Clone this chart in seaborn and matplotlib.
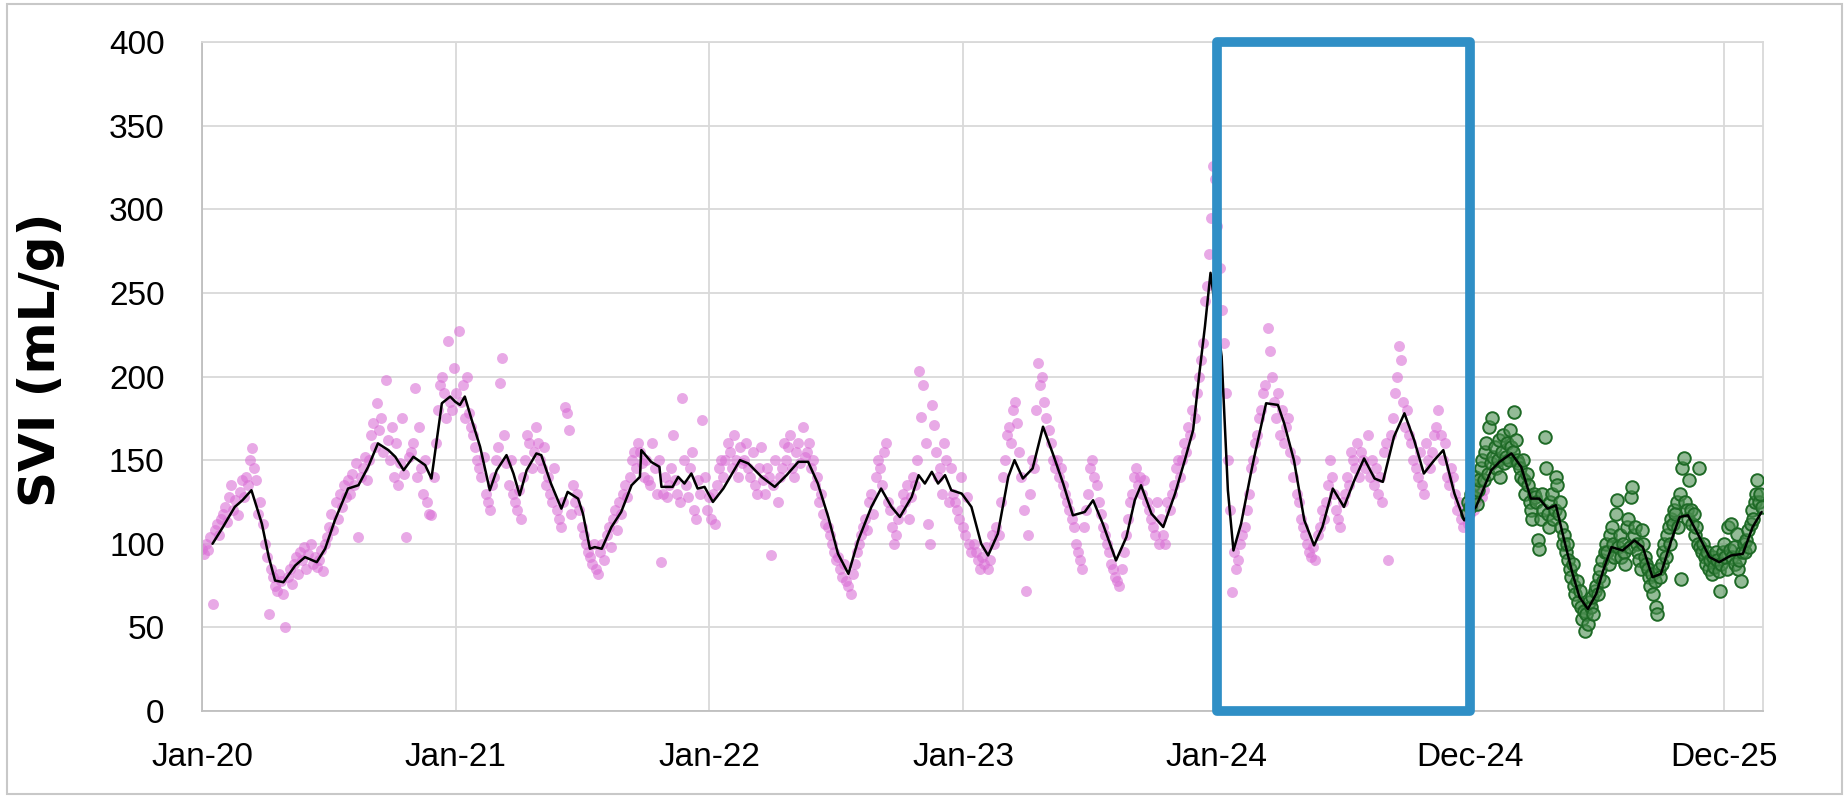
import matplotlib
matplotlib.use("Agg")
import matplotlib.dates as mdates
import matplotlib.pyplot as plt
import numpy as np
import pandas as pd
import seaborn as sns
from matplotlib.patches import Rectangle

# Datos (SVI en mL/g)
START = pd.Timestamp("2020-01-02")
AXIS_END = pd.Timestamp("2026-02-25")
TICK_DATES = ["2020-01-02", "2021-01-01", "2022-01-01", "2023-01-01",
              "2024-01-01", "2024-12-31", "2025-12-31"]
BOX_START = "2024-01-01"
BOX_END = "2024-12-31"

# Muestras históricas (una cada 3 días desde START)
PINK_2020 = [
    97, 94, 100, 96, 104, 64, 108, 112, 105, 115,
    118, 122, 113, 128, 135, 120, 126, 117, 131, 138,
    128, 140, 135, 150, 157, 145, 138, 118, 125, 112,
    100, 92, 58, 85, 80, 75, 72, 82, 78, 70,
    50, 80, 85, 76, 88, 92, 82, 95, 90, 98,
    85, 94, 100, 88, 92, 86, 90, 96, 84, 100,
    104, 110, 118, 108, 125, 115, 130, 122, 135, 128,
    138, 130, 142, 135, 148, 104, 140, 145, 152, 138,
    150, 165, 172, 158, 184, 168, 175, 155, 198, 162,
    150, 170, 140, 160, 135, 148, 175, 142, 104, 152,
    155, 160, 193, 140, 170, 145, 130, 150, 125, 118,
    117, 140, 160, 180, 195, 200, 190, 175, 221, 185,
]
PINK_2021 = [
    180, 205, 190, 227, 185, 195, 175, 200, 178, 170,
    165, 158, 150, 145, 140, 152, 130, 125, 120, 135,
    140, 150, 158, 196, 211, 165, 148, 135, 150, 130,
    125, 120, 132, 115, 140, 150, 165, 160, 145, 155,
    170, 160, 150, 145, 158, 135, 140, 130, 125, 145,
    120, 115, 110, 125, 182, 178, 168, 118, 135, 125,
    130, 120, 110, 105, 100, 95, 92, 88, 100, 85,
    82, 95, 100, 90, 105, 110, 98, 115, 120, 108,
    125, 118, 130, 135, 128, 140, 150, 155, 145, 160,
    155, 148, 140, 150, 138, 135, 160, 145, 130, 150,
    89, 130, 140, 128, 135, 145, 165, 138, 130, 125,
    187, 150, 135, 128, 145, 155, 120, 115, 138, 130,
]
PINK_2022 = [
    174, 140, 120, 128, 115, 130, 112, 135, 145, 150,
    140, 150, 160, 155, 145, 165, 150, 140, 158, 148,
    150, 160, 145, 140, 155, 135, 130, 145, 158, 138,
    130, 145, 140, 93, 135, 150, 125, 140, 145, 160,
    150, 158, 165, 145, 140, 155, 160, 148, 170, 152,
    155, 160, 145, 150, 135, 140, 125, 130, 118, 112,
    110, 105, 100, 95, 90, 92, 85, 80, 88, 78,
    75, 70, 82, 88, 95, 100, 105, 110, 115, 108,
    125, 130, 118, 140, 150, 145, 135, 155, 160, 125,
    120, 110, 100, 105, 115, 120, 130, 125, 135, 115,
    128, 140, 135, 150, 203, 176, 195, 160, 112, 100,
    183, 171, 155, 140, 145, 130, 160, 150, 125, 145,
]
PINK_2023 = [
    130, 125, 120, 115, 140, 110, 105, 128, 100, 95,
    100, 95, 90, 85, 92, 88, 98, 85, 90, 105,
    100, 110, 105, 125, 140, 150, 165, 170, 160, 180,
    185, 172, 155, 140, 120, 72, 105, 130, 150, 145,
    180, 208, 195, 200, 185, 175, 168, 160, 150, 145,
    150, 140, 145, 135, 130, 125, 120, 115, 110, 100,
    95, 90, 85, 110, 120, 130, 145, 150, 140, 135,
    125, 118, 110, 105, 100, 95, 88, 85, 80, 78,
    75, 85, 95, 105, 115, 125, 130, 140, 145, 135,
    140, 130, 138, 125, 120, 115, 110, 105, 125, 100,
    115, 105, 100, 125, 120, 130, 135, 145, 150, 140,
    150, 160, 155, 170, 165, 180, 175, 190, 200, 210,
]
PINK_2024 = [
    220, 245, 254, 273, 295, 326, 318, 290, 265, 240,
    220, 190, 150, 120, 71, 95, 85, 90, 100, 105,
    110, 120, 130, 145, 150, 160, 165, 175, 180, 190,
    195, 229, 215, 200, 185, 175, 190, 165, 180, 160,
    170, 175, 155, 140, 150, 130, 125, 115, 110, 105,
    100, 95, 92, 98, 90, 105, 110, 120, 115, 125,
    135, 150, 140, 130, 120, 115, 110, 125, 130, 140,
    135, 155, 150, 145, 160, 140, 155, 150, 145, 165,
    140, 150, 135, 145, 130, 140, 125, 155, 160, 90,
    165, 175, 190, 200, 218, 210, 185, 170, 180, 165,
    160, 150, 145, 140, 155, 135, 130, 160, 150, 145,
    155, 165, 170, 180, 165, 150, 160, 140, 135, 145,
    140, 130, 120, 125, 115, 110, 120, 112, 118, 125,
    120, 125, 130, 135, 128, 132,
]

# Muestras recientes (una cada 2 días desde el día 1820)
GREEN_START_DAY = 1820
GREEN_SVI = [
    118, 125, 122, 130, 135, 128, 140, 124, 132, 138,
    145, 150, 138, 155, 160, 142, 170, 148, 175, 152,
    158, 145, 150, 162, 140, 155, 165, 148, 152, 160,
    150, 168, 158, 155, 179, 162, 150, 148, 145, 140,
    150, 138, 130, 142, 135, 125, 120, 115, 130, 128,
    125, 102, 97, 115, 130, 120, 164, 145, 118, 110,
    125, 130, 115, 120, 140, 135, 118, 125, 110, 100,
    105, 95, 100, 90, 85, 80, 88, 75, 70, 78,
    65, 72, 62, 55, 60, 48, 58, 52, 65, 62,
    68, 58, 72, 75, 70, 80, 85, 90, 78, 95,
    100, 95, 88, 105, 110, 100, 92, 118, 126, 98,
    105, 92, 100, 95, 88, 110, 115, 98, 128, 134,
    105, 110, 100, 95, 90, 85, 108, 100, 92, 88,
    85, 80, 75, 82, 70, 78, 62, 58, 85, 80,
    88, 95, 100, 92, 105, 110, 100, 115, 112, 120,
    118, 125, 110, 130, 79, 145, 151, 125, 120, 115,
    138, 120, 112, 118, 105, 110, 100, 145, 98, 95,
    100, 92, 88, 95, 85, 90, 82, 92, 86, 95,
    90, 84, 72, 88, 95, 100, 92, 85, 110, 96,
    112, 92, 98, 88, 106, 85, 90, 78, 95, 100,
    95, 102, 108, 98, 112, 120, 115, 125, 130, 138,
    125, 130, 122,
]

# Media móvil (día desde START, valor)
LINE_DAY = [
    15, 30, 47, 58, 71, 86, 96, 105, 117, 134, 148, 165, 177, 191, 210, 225,
    239, 253, 268, 278, 290, 304, 321, 330, 345, 357, 364, 371, 378, 388, 400,
    414, 424, 438, 448, 457, 467, 481, 488, 502, 517, 526, 541, 548, 558, 565,
    575, 589, 603, 618, 630, 632, 646, 658, 661, 677, 685, 694, 704, 713, 723,
    735, 750, 774, 786, 805, 824, 841, 858, 872, 886, 901, 915, 930, 944, 963,
    977, 992, 1004, 1021, 1031, 1040, 1050, 1059, 1069, 1078, 1093, 1107, 1121,
    1131, 1145, 1160, 1169, 1181, 1195, 1210, 1224, 1239, 1253, 1270, 1282,
    1296, 1315, 1330, 1342, 1351, 1366, 1383, 1400, 1414, 1426, 1435, 1443,
    1451, 1467, 1476, 1484, 1495, 1509, 1514, 1531, 1548, 1557, 1571, 1586,
    1600, 1612, 1627, 1643, 1658, 1672, 1687, 1699, 1715, 1730, 1744, 1758,
    1773, 1786, 1802, 1816, 1833, 1855, 1867, 1884, 1898, 1912, 1924, 1936,
    1948, 1960, 1972, 1982, 1994, 2006, 2016, 2028, 2044, 2061, 2073, 2087,
    2099, 2114, 2126, 2138, 2152, 2169, 2183, 2200, 2217, 2231, 2244,
]
LINE_SVI = [
    100, 110, 122, 126, 132, 112, 92, 78, 77, 87, 92, 89, 97, 114, 133, 135,
    146, 160, 156, 152, 144, 152, 147, 139, 184, 188, 185, 183, 188, 174, 158,
    132, 144, 153, 142, 129, 144, 154, 153, 136, 121, 131, 127, 118, 97, 98,
    97, 110, 119, 135, 140, 156, 149, 146, 134, 134, 140, 136, 142, 133, 134,
    125, 133, 150, 148, 140, 134, 141, 149, 149, 136, 116, 94, 82, 102, 122,
    133, 122, 116, 128, 141, 136, 143, 136, 141, 132, 130, 122, 100,
    93, 106, 140, 150, 139, 145, 170, 154, 136, 117, 119, 126,
    112, 90, 104, 126, 135, 118, 110, 130, 150, 168, 202, 230,
    262, 212, 132, 96, 112, 142, 152, 184, 183, 172, 150, 114,
    99, 110, 133, 122, 138, 151, 139, 137, 164, 178, 162, 142,
    150, 156, 130, 114, 122, 144, 149, 154, 146, 127, 127, 121,
    123, 102, 82, 68, 61, 70, 84, 98, 96, 102, 98, 80,
    82, 102, 116, 117, 106, 92, 89, 93, 94, 110, 119,
]

pink_svi = PINK_2020 + PINK_2021 + PINK_2022 + PINK_2023 + PINK_2024
pink_dates = START + pd.to_timedelta(np.arange(len(pink_svi)) * 3, unit="D")
green_dates = START + pd.to_timedelta(
    GREEN_START_DAY + np.arange(len(GREEN_SVI)) * 2, unit="D")
line_dates = START + pd.to_timedelta(LINE_DAY, unit="D")

sns.set_theme(style="white")
plt.rcParams["font.family"] = ["Liberation Sans", "DejaVu Sans"]
for key in ("text.color", "axes.labelcolor", "xtick.color", "ytick.color"):
    plt.rcParams[key] = "black"

fig = plt.figure(figsize=(18.49, 7.96), dpi=100)
ax = fig.add_axes([0.1093, 0.1068, 0.8442, 0.8404])

sns.scatterplot(x=pink_dates, y=pink_svi, color="#DA70D6", alpha=0.6,
                s=62, linewidth=0, ax=ax, zorder=2)
sns.scatterplot(x=green_dates, y=GREEN_SVI, color="#3d8a45", s=82,
                linewidth=1.4, ax=ax, zorder=3)
green_pts = ax.collections[-1]
green_pts.set_facecolor((0.30, 0.56, 0.32, 0.6))
green_pts.set_edgecolor("#1e6a26")

sns.lineplot(x=line_dates, y=LINE_SVI, color="black", linewidth=1.8,
             estimator=None, sort=False, ax=ax, zorder=4)

# Recuadro azul (Jan-24 a Dec-24)
x0 = mdates.date2num(pd.Timestamp(BOX_START))
x1 = mdates.date2num(pd.Timestamp(BOX_END))
ax.add_patch(Rectangle((x0, 0), x1 - x0, 400, fill=False, edgecolor="#2f8fc6",
                       linewidth=7, joinstyle="round", clip_on=False, zorder=5))

ax.set_xlim(START, AXIS_END)
ax.set_ylim(0, 400)
ax.set_yticks(range(0, 401, 50))
ax.set_xticks(pd.to_datetime(TICK_DATES))
ax.xaxis.set_major_formatter(mdates.DateFormatter("%b-%y"))
ax.grid(True, color="#d9d9d9", linewidth=1.3)
ax.set_axisbelow(True)
ax.tick_params(axis="y", length=0, labelsize=24, pad=27)
ax.tick_params(axis="x", length=0, labelsize=24, pad=22)
for side, spine in ax.spines.items():
    spine.set_color("#bfbfbf" if side in ("left", "bottom") else "#d9d9d9")
    spine.set_linewidth(1.3)

ax.set_xlabel("")
ax.set_ylabel("SVI (mL/g)", fontsize=36, fontweight="bold",
              family=["DejaVu Sans"])
ax.yaxis.set_label_coords(-0.088, 0.525)

fig.add_artist(Rectangle((0.004, 0.003), 0.992, 0.992, transform=fig.transFigure,
                         fill=False, edgecolor="#c8c8c8", linewidth=1.5))

fig.savefig("out.png", dpi=100)
